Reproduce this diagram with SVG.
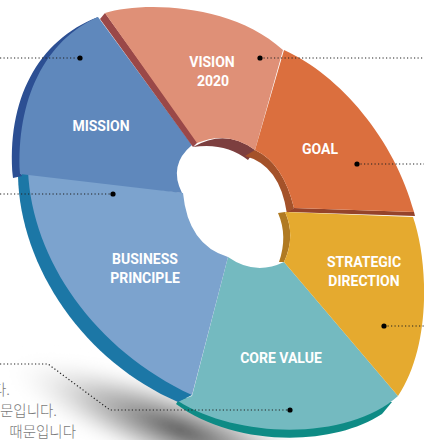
<svg xmlns="http://www.w3.org/2000/svg" width="424" height="440" viewBox="0 0 424 440">
<style>
.lbl{font-family:Roboto,"Liberation Sans",sans-serif;font-weight:700;font-size:14px;fill:#fff;text-anchor:middle}
.ko{font-family:"Noto Sans CJK KR",sans-serif;font-weight:300;font-size:14.5px;fill:#7a7a7a;text-anchor:end}
.dl{fill:none;stroke:#222;stroke-width:1.2;stroke-dasharray:1.2 2.3}
.dot{fill:#000}
</style>
<defs>
<radialGradient id="sh" cx="0.5" cy="0.5" r="0.5">
<stop offset="0" stop-color="#404040" stop-opacity="0.9"/>
<stop offset="0.5" stop-color="#888" stop-opacity="0.5"/>
<stop offset="1" stop-color="#ffffff" stop-opacity="0"/>
</radialGradient>
<filter id="bl" x="-20%" y="-50%" width="140%" height="200%"><feGaussianBlur stdDeviation="6"/></filter>
</defs>
<rect width="424" height="440" fill="#fff"/>
<ellipse cx="180" cy="430" rx="190" ry="44" transform="rotate(20 180 430)" fill="url(#sh)" filter="url(#bl)"/>

<g id="text-ko">
<text class="ko" x="10" y="395">다.</text>
<text class="ko" x="57" y="416">문입니다.</text>
<text class="ko" x="76" y="437">때문입니다</text>
</g>

<g id="core-value">
<path d="M176,404 C232,446 330,448 382,414 L392,402 L180,398 Z" fill="#0e8b85"/>
<path d="M228,257 Q255,276 284,262 L398,396 C350,440 240,440 178,401 L192,396 Z" fill="#74bac0"/>
<text class="lbl" x="281" y="363">CORE VALUE</text>
</g>

<g id="business-principle">
<path d="M28,171 L18,176 C20,268 85,362 178,402 L192,395 Z" fill="#1c77a6"/>
<path d="M28,171 L183,193 Q188,245 228,257 L192,395 C95,350 32,260 28,171 Z" fill="#7ca3ce"/>
<text class="lbl" x="145" y="264">BUSINESS</text>
<text class="lbl" x="145" y="283">PRINCIPLE</text>
</g>

<g id="mission">
<path d="M98,17 C38,40 6,100 13,178 L22,176 L20,172 Z" fill="#2c4f93"/>
<path d="M98,17 L192,145 Q168,165 182,193 L20,174 C16,100 45,40 98,17 Z" fill="#5f88bc"/>
<text class="lbl" x="101" y="131">MISSION</text>
</g>

<g id="vision">
<path d="M100,19 L105,13 L198,142 L193,147 Z" fill="#9a4848"/>
<path d="M193,147 Q226,128 255,150 L248,160 Q225,142 193,147 Z" fill="#7d3f3f"/>
<path d="M105,13 C140,2 230,2 283,50 L255,150 Q228,130 197,143 Z" fill="#df9077"/>
<text class="lbl" x="212" y="67">VISION</text>
<text class="lbl" x="213" y="86">2020</text>
</g>

<g id="goal">
<path d="M255,150 Q283,163 294,208 L287,214 Q280,165 245,156 Z" fill="#a4522a"/>
<path d="M294,208 L414,212 L415,216 L288,212 Z" fill="#95432a"/>
<path d="M284,50 C340,75 395,140 414,212 L294,208 Q283,163 255,150 Z" fill="#db6f3e"/>
<text class="lbl" x="320" y="154">GOAL</text>
</g>

<g id="strategic-direction">
<path d="M285,212 Q296,236 284,262 L279,262 Q288,236 278,213 Z" fill="#b07a22"/>
<path d="M285,212 L413,217 C428,260 432,345 398,396 L284,262 Q296,236 285,212 Z" fill="#e5aa2f"/>
<text class="lbl" x="364" y="267">STRATEGIC</text>
<text class="lbl" x="364" y="286">DIRECTION</text>
</g>

<g id="connectors">
<path class="dl" d="M0,58 H80"/>
<circle class="dot" cx="80" cy="58" r="2.6"/>
<path class="dl" d="M0,194 H113"/>
<circle class="dot" cx="113" cy="194" r="2.6"/>
<path class="dl" d="M260,58 H424"/>
<circle class="dot" cx="260" cy="58" r="2.6"/>
<path class="dl" d="M357,164 H424"/>
<circle class="dot" cx="357" cy="164" r="2.6"/>
<path class="dl" d="M384,326 H424"/>
<circle class="dot" cx="384" cy="326" r="2.6"/>
<path class="dl" d="M0,364 H48 L110,410 H290"/>
<circle class="dot" cx="290" cy="410" r="2.6"/>
</g>
</svg>
